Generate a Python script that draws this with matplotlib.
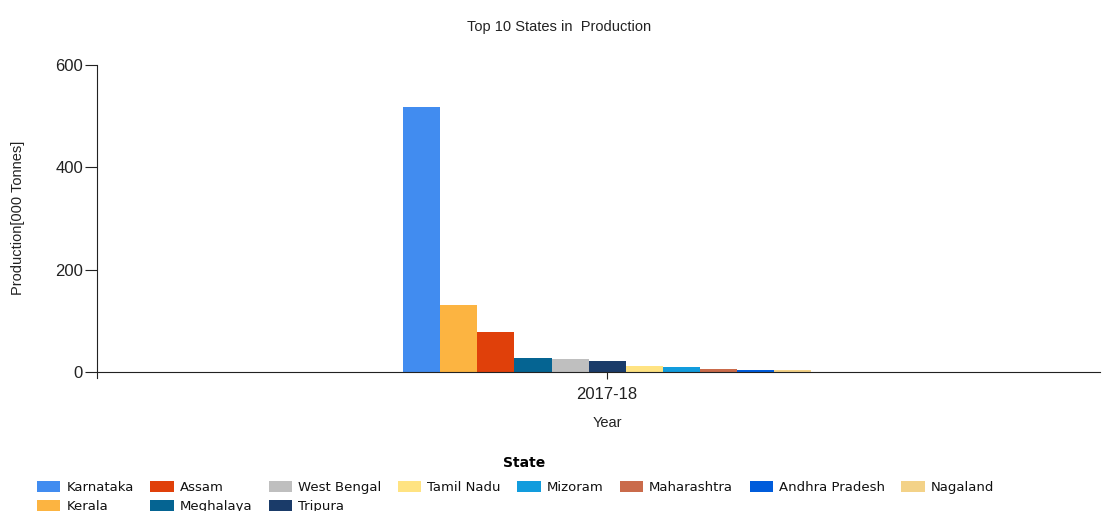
import matplotlib
matplotlib.use("Agg")
import matplotlib.pyplot as plt
from matplotlib.lines import Line2D
import numpy as np

states = ["Karnataka", "Kerala", "Assam", "Meghalaya", "West Bengal", "Tripura",
          "Tamil Nadu", "Mizoram", "Maharashtra", "Andhra Pradesh", "Nagaland"]
production = [518, 131, 79, 27, 25, 21.5, 11.5, 9, 6, 4, 3]
colors = ["#418CF0", "#FCB441", "#E0400A", "#056492", "#BFBFBF", "#1A3B69",
          "#FFE382", "#129CDD", "#CA6B4B", "#005CDB", "#F3D288"]
years = ["2017-18"]
yticks = [0, 200, 400, 600]

W, H = 1105, 511
fig = plt.figure(figsize=(W / 100, H / 100), dpi=100)
ax = fig.add_axes([97 / W, 1 - 372 / H, (1100 - 97) / W, (372 - 65) / H])

n = len(states)
group_w = 0.8
bw = group_w / n
handles = []
for i, (s, v, c) in enumerate(zip(states, production, colors)):
    x = 0 - group_w / 2 + bw * (i + 0.5)
    b = ax.bar(x, v, width=bw, color=c, label=s, linewidth=0)
    handles.append(b)

ax.set_xlim(-1.0, 0.966)
ax.set_ylim(0, 600)
ax.set_yticks(yticks)
ax.set_yticklabels([str(t) for t in yticks], fontsize=12, family="Liberation Sans")
ax.set_xticks([0])
ax.set_xticklabels(years, fontsize=12, family="Liberation Sans")
for side in ["top", "right"]:
    ax.spines[side].set_visible(False)
ax.spines["left"].set_color("#222222")
ax.spines["bottom"].set_color("#222222")
ax.tick_params(axis="y", length=8.5, pad=1.5, color="#222222", labelcolor="#222222")
ax.tick_params(axis="x", length=5, pad=6, color="#222222", labelcolor="#222222")
# small extension of the left spine below the baseline
ax.add_line(Line2D([0, 0], [0, -6 / 307], transform=ax.transAxes, color="#222222",
                   linewidth=0.8, clip_on=False))

fig.text(18 / W, 1 - 218 / H, "Production[000 Tonnes]", rotation=90, ha="center", va="center",
         fontsize=10.5, family="Liberation Sans", color="#222222")
fig.text(607 / W, 1 - 423 / H, "Year", ha="center", va="center",
         fontsize=10.5, family="Liberation Sans", color="#222222")
fig.text(559 / W, 1 - 27 / H, "Top 10 States in  Production", ha="center", va="center",
         fontsize=10.5, family="Liberation Sans", color="#222222")

leg = fig.legend(handles=handles, labels=states, ncol=8, loc="upper left",
                 bbox_to_anchor=(37 / W, 1 - 481 / H), frameon=False,
                 prop={"family": "DejaVu Sans", "size": 9.5},
                 handlelength=1.78, handleheight=0.87, handletextpad=0.455,
                 columnspacing=1.24, labelspacing=0.45, borderpad=0, borderaxespad=0)
for t in leg.get_texts():
    t.set_color("#111111")
fig.text(524 / W, 1 - 463 / H, "State", ha="center", va="center",
         fontsize=10, fontweight="bold", family="DejaVu Sans")

fig.savefig("out.png", dpi=100)
